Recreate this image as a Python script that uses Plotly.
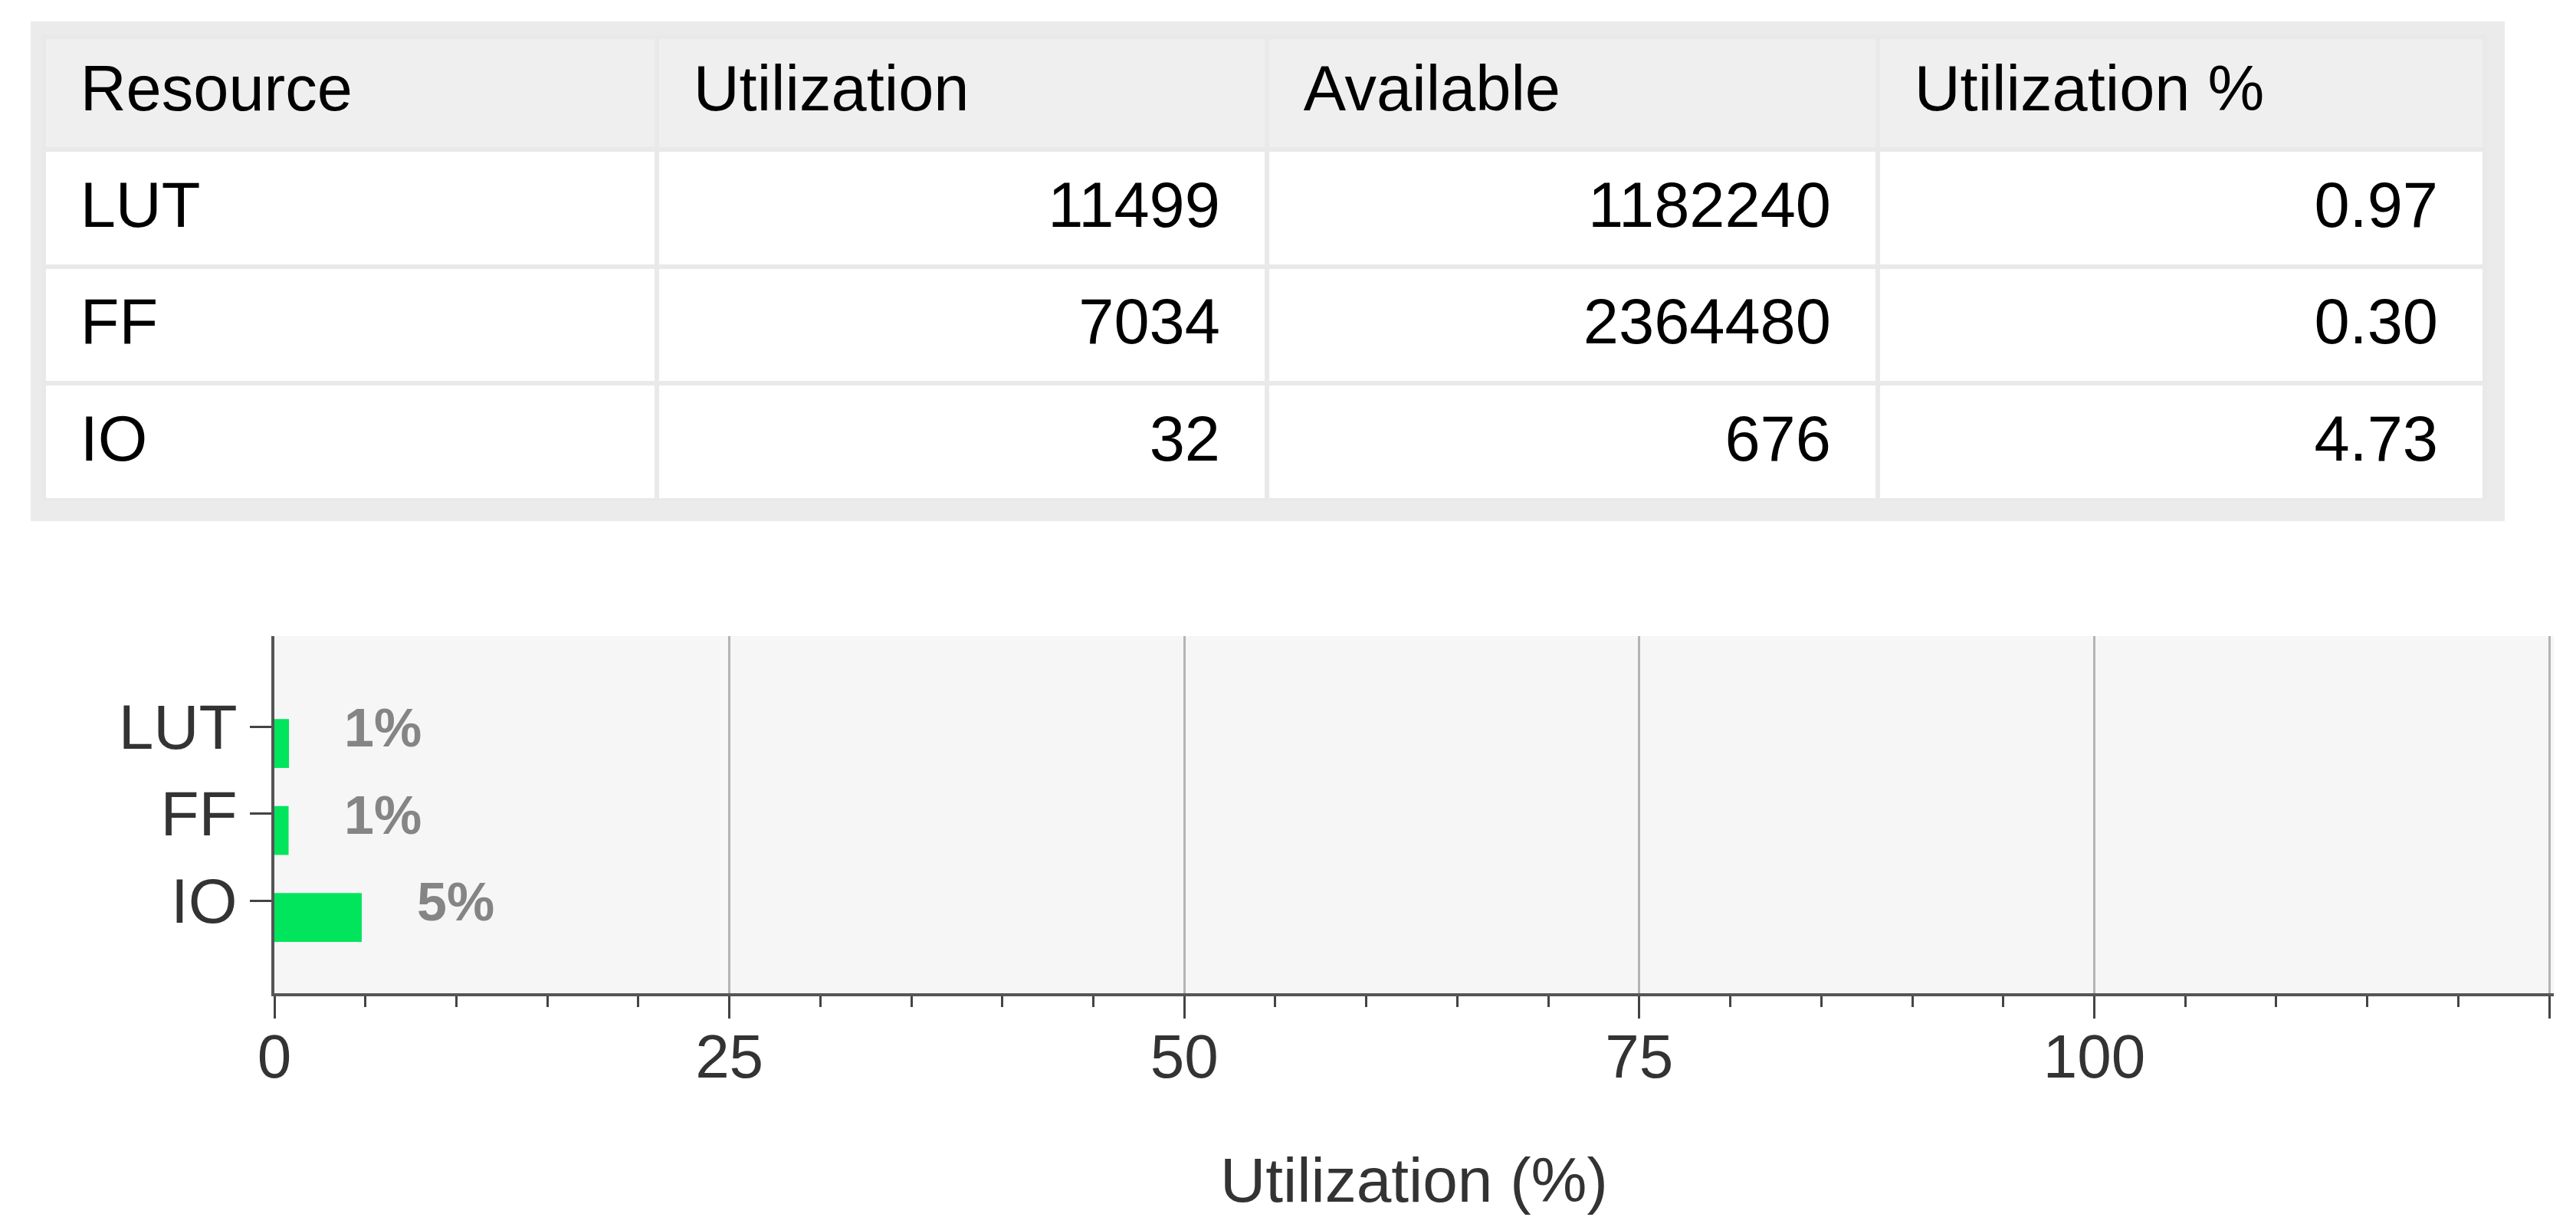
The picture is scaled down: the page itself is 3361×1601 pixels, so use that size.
import plotly.graph_objects as go

# table data
headers = ['Resource', 'Utilization', 'Available', 'Utilization %']
resources = ['LUT', 'FF', 'IO']
used = ['11499', '7034', '32']
available = ['1182240', '2364480', '676']
util_pct = ['0.97', '0.30', '4.73']

# chart data (bar lengths as drawn in the chart)
bar_values = [0.80, 0.78, 4.80]
bar_labels = ['1%', '1%', '5%']
x_ticks = [0, 25, 50, 75, 100, 125]
x_tick_text = ['0', '25', '50', '75', '100', '']

W, H = 3361, 1601
FONT = 'Liberation Sans, Arial'
pad_l = '\u00a0\u2009'
pad_r = '\u00a0\u00a0\u200a'


def px(x):
    return x / W


def py(y):
    return 1 - y / H


def cell(s):
    # plotly tables top-align their text, the small blank first line pushes it down
    return "\u00a0<br><span style='font-size:83px'>%s</span>" % s


table = go.Table(
    domain=dict(x=[px(49), px(3234)], y=[py(645), py(40)]),
    columnwidth=[800, 796, 797, 792],
    header=dict(
        values=[cell(pad_l + h) for h in headers],
        align='left',
        height=147,
        fill_color='#efefef',
        line=dict(color='#e9e9e9', width=6),
        font=dict(family=FONT, size=40, color='#000000'),
    ),
    cells=dict(
        values=[[cell(pad_l + r) for r in resources],
                [cell(u + pad_r) for u in used],
                [cell(a + pad_r) for a in available],
                [cell(p + pad_r) for p in util_pct]],
        align=['left', 'right', 'right', 'right'],
        height=152.7,
        fill_color='#ffffff',
        line=dict(color='#e9e9e9', width=6),
        font=dict(family=FONT, size=42, color='#000000'),
    ),
)

bars = go.Bar(
    y=resources,
    x=bar_values,
    orientation='h',
    width=0.562,
    offset=-0.087,
    marker=dict(color='#00e55c', line=dict(width=0)),
    showlegend=False,
    hoverinfo='skip',
)

fig = go.Figure([table, bars])

for r, v, lab in zip(resources, bar_values, bar_labels):
    fig.add_annotation(
        x=v, y=r, xref='x', yref='y', text='<b>%s</b>' % lab,
        showarrow=False, xanchor='left', yanchor='middle',
        xshift=70, yshift=-2,
        font=dict(family=FONT, size=70, color='#858585'),
    )

fig.add_annotation(
    x=(px(350) + px(3324)) / 2, y=py(1531), xref='paper', yref='paper',
    text='Utilization (%)', showarrow=False, xanchor='center', yanchor='middle',
    font=dict(family=FONT, size=82, color='#333333'),
)

# grey box around the table
fig.add_shape(type='rect', xref='paper', yref='paper',
              x0=px(32), x1=px(3260), y0=py(672), y1=py(20),
              fillcolor='#ebebeb', line=dict(width=0), layer='below')

fig.update_layout(
    width=W, height=H,
    margin=dict(l=0, r=0, t=0, b=0),
    paper_bgcolor='#ffffff',
    plot_bgcolor='#f6f6f6',
    font=dict(family=FONT, color='#333333'),
    xaxis=dict(
        domain=[px(350), px(3324)],
        range=[0, 125.25],
        tickvals=x_ticks, ticktext=x_tick_text,
        ticks='outside', ticklen=29, tickwidth=3, tickcolor='#444444',
        minor=dict(dtick=5, ticks='outside', ticklen=14, tickwidth=3,
                   tickcolor='#444444', showgrid=False),
        showgrid=True, gridcolor='#b4b4b4', gridwidth=3,
        zeroline=False,
        showline=True, linecolor='#555555', linewidth=4,
        tickfont=dict(size=80, color='#333333'),
        ticklabelstandoff=-19,
        fixedrange=True, automargin=False,
    ),
    yaxis=dict(
        domain=[py(1288), py(822)],
        type='category',
        categoryorder='array', categoryarray=resources,
        range=[3.066, -1.04],
        ticks='outside', ticklen=28, tickwidth=3, tickcolor='#444444',
        showgrid=False, zeroline=False,
        showline=True, linecolor='#555555', linewidth=4,
        tickfont=dict(size=82, color='#333333'),
        fixedrange=True, automargin=False,
    ),
)

fig.write_html('out.html')
